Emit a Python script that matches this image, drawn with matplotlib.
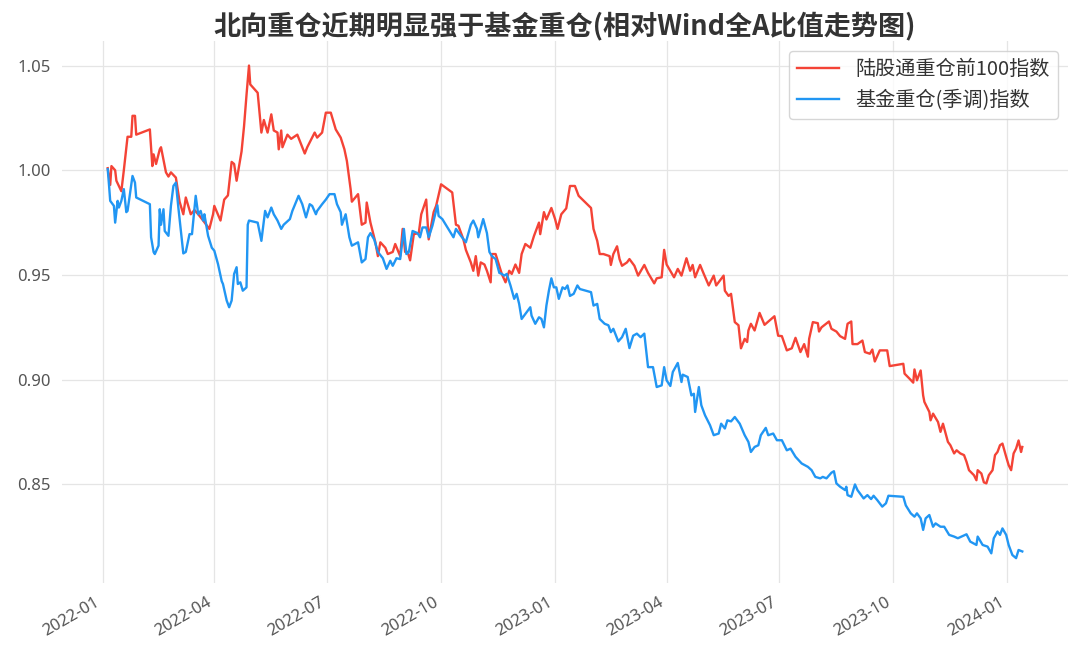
import numpy as np
import pandas as pd
import matplotlib
matplotlib.use("Agg")
import matplotlib.pyplot as plt
import matplotlib.dates as mdates

plt.rcParams['font.family'] = ['Noto Sans CJK SC', 'DejaVu Sans']

title = "北向重仓近期明显强于基金重仓(相对Wind全A比值走势图)"
label_north = "陆股通重仓前100指数"
label_fund = "基金重仓(季调)指数"

# days after 2022-01-01
north_days = [4, 6, 7, 10, 11, 15, 17, 20, 23, 24, 26, 27, 38, 40, 41, 43, 46, 47, 51, 53,
              55, 59, 62, 65, 67, 71, 74, 77, 81, 86, 89, 90, 95, 98, 101, 104, 106, 108, 112, 114,
              116, 118, 119, 125, 128, 130, 133, 136, 138, 141, 142, 144, 145, 149, 152, 157, 163, 165, 171, 173,
              177, 180, 184, 188, 192, 195, 197, 200, 201, 206, 209, 212, 213, 216, 220, 222, 224, 228, 230, 234,
              236, 240, 242, 244, 246, 248, 251, 255, 257, 261, 263, 267, 269, 273, 282, 285, 287, 291, 293, 297,
              299, 301, 303, 305, 308, 310, 313, 314, 317, 320, 322, 325, 328, 330, 333, 336, 338, 341, 345, 348,
              352, 353, 356, 358, 362, 365, 367, 370, 374, 377, 381, 384, 394, 396, 399, 401, 404, 409, 410, 412,
              415, 417, 419, 423, 425, 429, 432, 437, 440, 445, 447, 451, 453, 455, 459, 461, 464, 467, 471, 474,
              476, 478, 482, 485, 489, 493, 495, 501, 502, 505, 507, 510, 513, 515, 518, 520, 521, 523, 526, 530,
              534, 542, 545, 548, 552, 556, 559, 563, 566, 569, 570, 573, 577, 578, 580, 586, 588, 592, 595, 599,
              601, 604, 605, 609, 613, 615, 619, 621, 623, 627, 633, 635, 646, 647, 651, 654, 655, 657, 660, 662,
              663, 667, 668, 670, 674, 676, 678, 682, 684, 687, 689, 692, 695, 697, 699, 703, 705, 706, 709, 711,
              713, 715, 718, 720, 722, 724, 726, 729, 731, 733, 735, 737, 739, 741, 742]
north_vals = [1.001, 0.993, 1.002, 1.000, 0.995, 0.990, 1.000, 1.016, 1.016, 1.026, 1.026, 1.017, 1.0195, 1.002, 1.0076, 1.003, 1.010, 1.011, 0.999, 0.997,
              0.999, 0.9965, 0.985, 0.979, 0.987, 0.979, 0.981, 0.979, 0.976, 0.972, 0.979, 0.983, 0.976, 0.986, 0.988, 1.004, 1.003, 0.995, 1.009, 1.021,
              1.036, 1.050, 1.041, 1.037, 1.018, 1.024, 1.018, 1.0267, 1.019, 1.018, 1.010, 1.019, 1.011, 1.017, 1.015, 1.017, 1.008, 1.011, 1.018, 1.0156,
              1.018, 1.0275, 1.0275, 1.0195, 1.0156, 1.010, 1.0044, 0.991, 0.985, 0.9886, 0.974, 0.975, 0.9846, 0.975, 0.9656, 0.959, 0.9656, 0.963, 0.960, 0.961,
              0.9648, 0.959, 0.972, 0.961, 0.961, 0.957, 0.9695, 0.970, 0.979, 0.986, 0.967, 0.980, 0.983, 0.9933, 0.9894, 0.974, 0.9735, 0.967, 0.962, 0.956,
              0.952, 0.959, 0.9497, 0.956, 0.955, 0.952, 0.9465, 0.960, 0.960, 0.9544, 0.9505, 0.9465, 0.952, 0.9505, 0.955, 0.951, 0.960, 0.9648, 0.963, 0.9687,
              0.975, 0.9695, 0.980, 0.9765, 0.982, 0.9767, 0.972, 0.979, 0.9818, 0.9925, 0.9925, 0.9878, 0.982, 0.972, 0.9663, 0.960, 0.960, 0.959, 0.9548, 0.960,
              0.9637, 0.9576, 0.9544, 0.956, 0.9576, 0.9544, 0.9497, 0.9548, 0.951, 0.946, 0.9484, 0.9489, 0.962, 0.955, 0.951, 0.9489, 0.9529, 0.9497, 0.958, 0.952,
              0.9548, 0.9489, 0.9548, 0.9505, 0.945, 0.9497, 0.945, 0.9497, 0.9425, 0.940, 0.941, 0.9275, 0.926, 0.915, 0.9195, 0.918, 0.9235, 0.9267, 0.9235, 0.9319,
              0.9262, 0.9303, 0.921, 0.9208, 0.914, 0.915, 0.920, 0.9132, 0.917, 0.911, 0.9195, 0.9275, 0.927, 0.923, 0.925, 0.9278, 0.9243, 0.923, 0.9208, 0.9195,
              0.9267, 0.9278, 0.917, 0.917, 0.9187, 0.9132, 0.9124, 0.9144, 0.9087, 0.914, 0.914, 0.9065, 0.9076, 0.9029, 0.9005, 0.8986, 0.9049, 0.8997, 0.9044, 0.8925,
              0.8894, 0.8846, 0.8806, 0.8838, 0.8798, 0.8751, 0.879, 0.8703, 0.8687, 0.8648, 0.8663, 0.8648, 0.864, 0.8608, 0.8568, 0.8544, 0.852, 0.8568, 0.8552, 0.851,
              0.8505, 0.8544, 0.8568, 0.864, 0.8655, 0.8687, 0.8695, 0.8632, 0.8592, 0.8568, 0.8648, 0.8671, 0.871, 0.8655, 0.8679]

fund_days = [4, 5, 6, 9, 10, 12, 13, 15, 17, 19, 20, 24, 26, 27, 38, 39, 41, 42, 45, 46,
             47, 49, 50, 53, 55, 57, 59, 61, 63, 65, 67, 70, 72, 75, 77, 79, 81, 82, 85, 88,
             90, 93, 96, 97, 100, 102, 104, 106, 108, 109, 111, 113, 116, 117, 118, 125, 128, 131, 133, 136,
             138, 141, 144, 146, 151, 153, 158, 161, 164, 167, 169, 172, 173, 175, 177, 180, 183, 187, 189, 192,
             193, 196, 199, 201, 206, 209, 212, 214, 216, 219, 222, 226, 229, 232, 234, 237, 240, 243, 245, 247,
             250, 254, 256, 258, 261, 263, 266, 270, 271, 274, 283, 285, 289, 293, 297, 299, 302, 303, 307, 310,
             312, 314, 317, 320, 322, 324, 326, 329, 332, 334, 336, 338, 341, 345, 346, 349, 352, 354, 356, 358,
             360, 362, 364, 366, 368, 371, 373, 375, 377, 380, 383, 385, 394, 396, 399, 401, 405, 408, 410, 412,
             416, 419, 422, 425, 428, 431, 434, 437, 440, 444, 447, 451, 453, 455, 458, 460, 464, 467, 468, 472,
             475, 477, 478, 481, 483, 486, 490, 493, 497, 499, 502, 504, 507, 510, 514, 518, 521, 523, 526, 529,
             531, 535, 537, 541, 544, 548, 552, 555, 559, 564, 569, 572, 575, 579, 581, 584, 588, 590, 592, 595,
             599, 600, 601, 604, 607, 609, 614, 617, 620, 622, 625, 629, 632, 634, 646, 648, 652, 655, 657, 660,
             662, 664, 667, 670, 672, 676, 679, 683, 687, 690, 693, 697, 700, 705, 706, 710, 714, 717, 719, 722,
             724, 726, 729, 731, 734, 737, 739, 742]
fund_vals = [1.0005, 0.9933, 0.9854, 0.983, 0.975, 0.9854, 0.9822, 0.9854, 0.991, 0.980, 0.9806, 0.9973, 0.9941, 0.987, 0.9838, 0.968, 0.961, 0.960, 0.964, 0.9814,
             0.974, 0.9814, 0.971, 0.9687, 0.983, 0.9925, 0.9941, 0.9822, 0.971, 0.9603, 0.961, 0.9695, 0.9695, 0.9878, 0.979, 0.9806, 0.976, 0.979, 0.9687, 0.963,
             0.9616, 0.9552, 0.947, 0.9457, 0.9378, 0.9346, 0.9378, 0.9505, 0.9537, 0.9457, 0.9465, 0.9425, 0.9441, 0.974, 0.976, 0.975, 0.9663, 0.9806, 0.9775, 0.9822,
             0.979, 0.976, 0.972, 0.974, 0.9767, 0.9806, 0.9878, 0.9838, 0.9775, 0.9838, 0.983, 0.979, 0.9806, 0.9822, 0.9838, 0.986, 0.9886, 0.9886, 0.9838, 0.980,
             0.974, 0.979, 0.968, 0.964, 0.9656, 0.956, 0.9576, 0.968, 0.970, 0.967, 0.961, 0.958, 0.9529, 0.9568, 0.9544, 0.958, 0.9576, 0.972, 0.960, 0.961,
             0.971, 0.970, 0.968, 0.9727, 0.9727, 0.968, 0.9735, 0.9833, 0.9782, 0.9767, 0.968, 0.972, 0.9687, 0.9656, 0.974, 0.976, 0.972, 0.968, 0.9767, 0.970,
             0.961, 0.959, 0.9576, 0.951, 0.9505, 0.9497, 0.9505, 0.945, 0.9386, 0.941, 0.9362, 0.929, 0.9314, 0.9346, 0.9306, 0.9267, 0.9298, 0.929, 0.925, 0.9354,
             0.9425, 0.9484, 0.9441, 0.9441, 0.9386, 0.9441, 0.9433, 0.945, 0.940, 0.941, 0.945, 0.9433, 0.9418, 0.9354, 0.9362, 0.929, 0.9267, 0.926, 0.9227, 0.9243,
             0.9183, 0.9203, 0.9243, 0.9151, 0.921, 0.922, 0.9203, 0.922, 0.906, 0.906, 0.8965, 0.8973, 0.906, 0.8997, 0.897, 0.9037, 0.908, 0.8989, 0.9024, 0.9013,
             0.8925, 0.8933, 0.8846, 0.8965, 0.8878, 0.883, 0.8783, 0.8735, 0.8743, 0.879, 0.8767, 0.8806, 0.8801, 0.8822, 0.879, 0.8735, 0.8703, 0.8655, 0.8679, 0.8687,
             0.8735, 0.877, 0.8735, 0.8743, 0.8711, 0.8711, 0.8663, 0.8671, 0.8632, 0.860, 0.8584, 0.8568, 0.8536, 0.8529, 0.8536, 0.8529, 0.8556, 0.8563, 0.8505, 0.8489,
             0.8473, 0.8489, 0.8449, 0.8441, 0.850, 0.8473, 0.8433, 0.8449, 0.843, 0.8446, 0.8425, 0.8394, 0.841, 0.8446, 0.8441, 0.840, 0.8362, 0.8346, 0.8362, 0.8338,
             0.8283, 0.8338, 0.8354, 0.8298, 0.8314, 0.8298, 0.8298, 0.8259, 0.8251, 0.8243, 0.8251, 0.8262, 0.8227, 0.8211, 0.8251, 0.8211, 0.8203, 0.8171, 0.8243, 0.8275,
             0.8259, 0.829, 0.8259, 0.8211, 0.8163, 0.8148, 0.8187, 0.818]

start = pd.Timestamp("2022-01-01")
north_dates = start + pd.to_timedelta(north_days, unit="D")
fund_dates = start + pd.to_timedelta(fund_days, unit="D")

fig = plt.figure(figsize=(10.8, 6.6), dpi=100)
ax = fig.add_axes([0.0574, 0.117, 0.9315, 0.821])

ax.plot(north_dates, north_vals, color="#F44336", lw=1.7, label=label_north)
ax.plot(fund_dates, fund_vals, color="#2196F3", lw=1.7, label=label_fund)

ax.set_title(title, fontsize=19.5, fontweight="bold", color="#333333", pad=5)

ax.xaxis.set_major_locator(mdates.MonthLocator(bymonth=[1, 4, 7, 10]))
ax.xaxis.set_major_formatter(mdates.DateFormatter("%Y-%m"))
ax.set_yticks([0.85, 0.90, 0.95, 1.00, 1.05])
ax.yaxis.set_major_formatter(matplotlib.ticker.FormatStrFormatter("%.2f"))

for s in ax.spines.values():
    s.set_visible(False)
ax.grid(True, color="#e5e5e5", lw=0.9)
ax.set_axisbelow(True)
ax.tick_params(length=0, labelsize=12, colors="#555555", pad=8)
for lab in ax.get_xticklabels() + ax.get_yticklabels():
    lab.set_family(["Noto Sans", "DejaVu Sans"])
plt.setp(ax.get_xticklabels(), rotation=30, ha="right")

leg = ax.legend(loc="upper right", fontsize=14.5, frameon=True, fancybox=True,
                edgecolor="#cccccc", borderaxespad=0.5, handlelength=2.1)
for t in leg.get_texts():
    t.set_color("#333333")

fig.savefig("out.png", dpi=100)
